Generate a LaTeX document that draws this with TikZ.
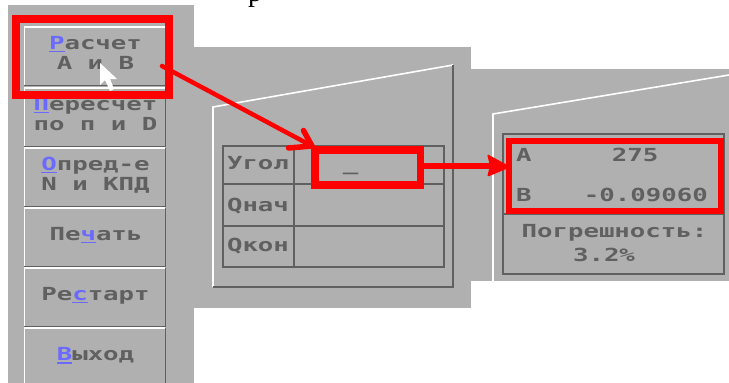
\documentclass[tikz,border=0pt]{standalone}
\usepackage{fontspec}
\newfontfamily\dos{DejaVu Sans Mono Bold}[FakeStretch=1.43]
\newfontfamily\serifpart{Liberation Serif}
\definecolor{panel}{HTML}{B0B0B0}
\definecolor{ink}{HTML}{606060}
\definecolor{acc}{HTML}{6A6AFF}
\definecolor{redc}{HTML}{FF0000}
\tikzset{
 x=1pt,y=-1pt,
 panelfill/.style={fill=panel,draw=none},
 dostext/.style={text=ink,font=\dos\fontsize{18}{20}\selectfont,align=center,inner sep=0pt,anchor=center},
 hi/.style={draw=white,line width=1.6pt},
 lo/.style={draw=ink,line width=1.4pt},
 grid/.style={draw=ink,line width=1.3pt},
 redline/.style={draw=redc,line width=4.5pt,line cap=round},
}
\newcommand{\ul}[1]{\textcolor{acc}{\setbox0\hbox{#1}\rlap{\rule[-2.8pt]{\wd0}{1.4pt}}\box0}}
\newcommand{\cpl}[1]{\vphantom{Ру}#1}
\begin{document}
\begin{tikzpicture}
\useasboundingbox (0,0) rectangle (729,383);
\fill[white] (0,0) rectangle (729,383);
% grey panels
\fill[panelfill] (8,5) rectangle (194,383);
\fill[panelfill] (194,47) rectangle (471,308);
\fill[panelfill] (471,69) rectangle (729,281);
% buttons
\foreach \t/\b in {27/85,88/146,148/206,208/266,268/326,328/390}{
  \draw[hi] (24.5,\b) -- (24.5,\t) -- (165,\t);
  \draw[lo] (24,\b+0.6) -- (165.4,\b+0.6) -- (165.4,\t);
}
\node[dostext] (b1) at (95.5,55) {\cpl{\ul{Р}асчет}\\\cpl{А и В}};
\node[dostext] (b2) at (95.5,115.5) {\cpl{\ul{П}ересчет}\\\cpl{по п и D}};
\node[dostext] (b3) at (95.5,175.5) {\cpl{\ul{О}пред-е}\\\cpl{N и КПД}};
\node[dostext] (b4) at (96,235.5) {\cpl{Пе\ul{ч}ать}};
\node[dostext] (b5) at (95.5,295.5) {\cpl{Ре\ul{с}тарт}};
\node[dostext] (b6) at (95.5,356) {\cpl{\ul{В}ыход}};
% cursor
\fill[white] (100,63) -- (100,85) -- (105,80) -- (110,91) -- (114,89) -- (110,79) -- (117,79) -- cycle;
% middle window
\draw[hi] (213,287) -- (213,107) -- (453,65);
\draw[lo] (453,65) -- (453,287) -- (213,287);
\draw[grid] (223,146) rectangle (444,267);
\draw[grid] (223,184) -- (444,184);
\draw[grid] (223,226) -- (444,226);
\draw[grid] (294,146) -- (294,267);
\node[dostext] (u) at (258,165) {\cpl{Угол}};
\node[dostext] (qn) at (258,206.5) {\cpl{Qнач}};
\node[dostext] (qk) at (258,247) {\cpl{Qкон}};
\node[dostext,anchor=base] (cur) at (350.5,170) {\_};
% right window
\draw[hi] (493,281) -- (493,114) -- (729,75);
\draw[grid] (503,134) rectangle (724,274);
\draw[grid] (503,214) -- (724,214);
\node[dostext,anchor=base west] (la) at (516,161) {A};
\node[dostext,anchor=base] (va) at (635,161) {275};
\node[dostext,anchor=base west] (lb) at (516,201) {B};
\node[dostext,anchor=base east] (vb) at (708,201) {-0.09060};
\node[dostext,anchor=base] (pg) at (614.5,237) {Погрешность:};
\node[dostext,anchor=base] (pc) at (604,261) {3.2\%};
% red boxes
\draw[redc,line width=8pt] (16,19) rectangle (168.5,95);
\coordinate (r1e) at (162,66);
\draw[redc,line width=7.5pt] (315,150) rectangle (420.5,185);
\coordinate (r2t) at (312,146);
\coordinate (r2e) at (420.5,166);
\draw[redc,line width=6pt] (509,140.5) rectangle (720.5,211);
\coordinate (r3w) at (511,167);
% connectors
\draw[redline] (r1e) -- (r2t);
\draw[redline,line width=5.5pt] (288.5,148) -- (r2t) -- (303.5,130.5);
\draw[redc,line width=5.5pt] (r2e) -- (495,166);
\fill[redc,rounded corners=2pt] (r3w) -- (487,154) -- (490,166) -- (487,177) -- cycle;
% fragment of text line cut off at the top
\node[text=black,font=\serifpart\fontsize{28}{28}\selectfont,inner sep=0pt,anchor=base] (t) at (255,1.5) {р};
\end{tikzpicture}
\end{document}
